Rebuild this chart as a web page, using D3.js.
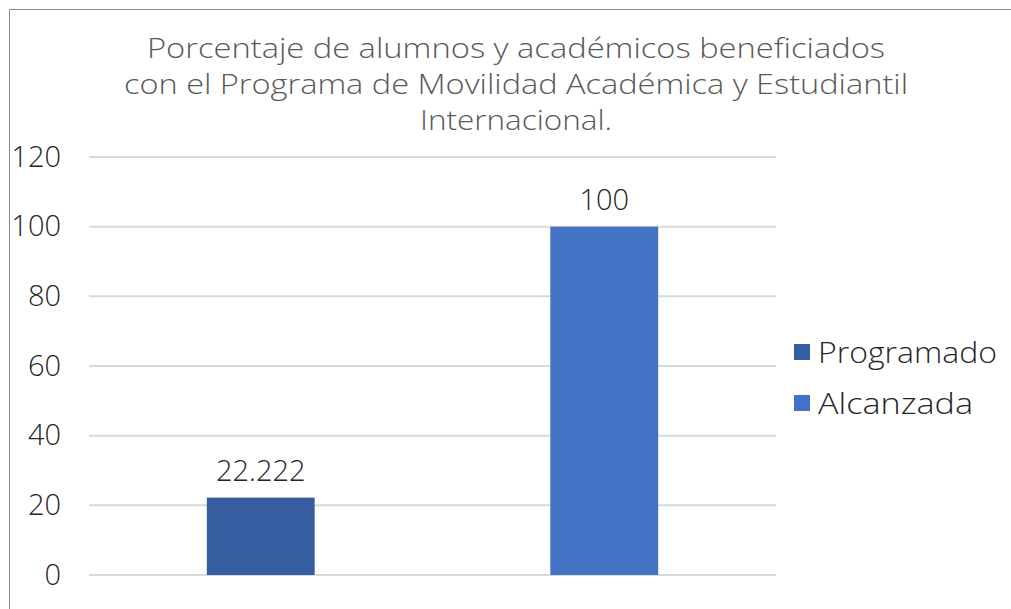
<!DOCTYPE html>
<html>
<head>
<meta charset="utf-8">
<script src="https://d3js.org/d3.v7.min.js"></script>
<style>
  body { margin: 0; background: #fff; }
  svg { display: block; }
</style>
</head>
<body>
<div id="chart"></div>
<script>
// data
const categories = ["Programado", "Alcanzada"];
const values = [22.222, 100];
const labels = ["22.222", "100"];
const colors = ["#365d9f", "#4472c4"];
const yTicks = [0, 20, 40, 60, 80, 100, 120];
const titleLines = [
  "Porcentaje de alumnos y académicos beneficiados",
  "con el Programa de Movilidad Académica y Estudiantil",
  "Internacional."
];

const W = 1011, H = 609;
const plot = {left: 89, right: 776, top: 157, bottom: 575};

const svg = d3.select("#chart").append("svg")
    .attr("width", W)
    .attr("height", H);

// chart frame (cut off at right and bottom)
svg.append("path")
    .attr("d", `M9.5,${H + 2} L9.5,9.5 L${W + 2},9.5`)
    .attr("fill", "none")
    .attr("stroke", "#8c8c8c")
    .attr("stroke-width", 1);

// title
const titleWidths = [738, 784, 192];
svg.append("g").selectAll("text")
    .data(titleLines)
    .enter().append("text")
    .attr("x", 516)
    .attr("y", (d, i) => 58 + i * 36)
    .attr("text-anchor", "middle")
    .attr("textLength", (d, i) => titleWidths[i])
    .attr("lengthAdjust", "spacingAndGlyphs")
    .style("font-family", "'Open Sans', sans-serif")
    .style("font-weight", 300)
    .style("font-size", "27px")
    .style("fill", "#595959")
    .text(d => d);

const x = d3.scaleBand()
    .domain(categories)
    .range([plot.left, plot.right])
    .paddingInner(0.686)
    .paddingOuter(0.343);

const y = d3.scaleLinear()
    .domain([0, 120])
    .range([plot.bottom, plot.top]);

// gridlines
svg.append("g")
    .selectAll("line")
    .data(yTicks)
    .enter().append("line")
    .attr("x1", plot.left)
    .attr("x2", plot.right)
    .attr("y1", d => y(d))
    .attr("y2", d => y(d))
    .attr("stroke", "#d9d9d9")
    .attr("stroke-width", 2);

// y axis labels
const yAxis = svg.append("g")
    .attr("transform", "translate(61,0)")
    .call(d3.axisLeft(y).tickValues(yTicks).tickSize(0).tickPadding(0));
yAxis.select(".domain").remove();
yAxis.selectAll("text")
    .style("font-family", "'Open Sans', sans-serif")
    .style("font-weight", 300)
    .style("font-size", "29px")
    .style("fill", "#262626");

// bars
svg.append("g")
    .selectAll("rect")
    .data(categories)
    .enter().append("rect")
    .attr("x", d => x(d))
    .attr("width", x.bandwidth())
    .attr("y", (d, i) => y(values[i]))
    .attr("height", (d, i) => y(0) - y(values[i]))
    .attr("fill", (d, i) => colors[i]);

// data labels
svg.append("g")
    .selectAll("text")
    .data(categories)
    .enter().append("text")
    .attr("x", d => x(d) + x.bandwidth() / 2)
    .attr("y", (d, i) => y(values[i]) - 17)
    .attr("text-anchor", "middle")
    .style("font-family", "'Open Sans', sans-serif")
    .style("font-weight", 300)
    .style("font-size", "29px")
    .style("fill", "#262626")
    .text((d, i) => labels[i]);

// legend
const legendWidths = [179, 155];
const legend = svg.append("g")
    .selectAll("g")
    .data(categories)
    .enter().append("g")
    .attr("transform", (d, i) => `translate(794,${344 + i * 51})`);
legend.append("rect")
    .attr("width", 16)
    .attr("height", 16)
    .attr("fill", (d, i) => colors[i]);
legend.append("text")
    .attr("x", 24)
    .attr("y", 19)
    .attr("textLength", (d, i) => legendWidths[i])
    .attr("lengthAdjust", "spacingAndGlyphs")
    .style("font-family", "'Open Sans', sans-serif")
    .style("font-weight", 300)
    .style("font-size", "30px")
    .style("fill", "#262626")
    .text(d => d);
</script>
</body>
</html>
